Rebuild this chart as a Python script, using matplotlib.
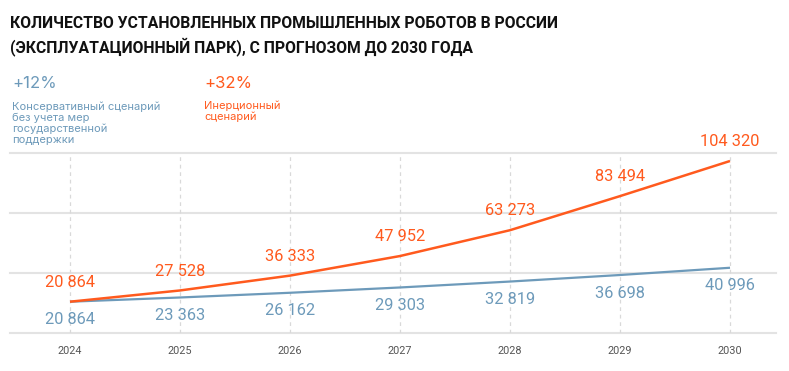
import matplotlib
matplotlib.use("Agg")
import matplotlib.pyplot as plt

years = [2024, 2025, 2026, 2027, 2028, 2029, 2030]
conservative = [20864, 23363, 26162, 29303, 32819, 36698, 40996]
inertial = [20864, 27528, 36333, 47952, 63273, 83494, 104320]
title = "КОЛИЧЕСТВО УСТАНОВЛЕННЫХ ПРОМЫШЛЕННЫХ РОБОТОВ В РОССИИ\n(ЭКСПЛУАТАЦИОННЫЙ ПАРК), С ПРОГНОЗОМ ДО 2030 ГОДА"
cons_pct = "+12%"
cons_text = "Консервативный сценарий\nбез учета мер\nгосударственной\nподдержки"
inert_pct = "+32%"
inert_text = "Инерционный\nсценарий"

ORANGE = "#ff5a1e"
BLUE = "#6d9aba"
GRID = "#e3e3e3"

def fmt(v):
    return f"{v:,}".replace(",", " ")

W, H = 789, 371
fig = plt.figure(figsize=(W / 100, H / 100), dpi=100)
fig.patch.set_facecolor("white")

ax = fig.add_axes([10 / W, 1 - 333 / H, (776 - 10) / W, (333 - 153) / H])
ymin, step = 2298, 35590
ax.set_ylim(ymin, ymin + 3 * step)
ax.set_xlim(2024 - 60 / 110, 2030 + 46 / 110)

for k in range(4):
    ax.axhline(ymin + k * step, color=GRID, lw=1.5, zorder=0, clip_on=False)
for yr in years:
    ax.axvline(yr, color="#d9d9d9", lw=0.9, ls=(0, (3, 3)), zorder=0)

ax.plot(years, conservative, color=BLUE, lw=1.6, zorder=3, solid_capstyle="butt")
ax.plot(years, inertial, color=ORANGE, lw=1.8, zorder=4, solid_capstyle="butt")

lab_font = dict(family=["Roboto", "DejaVu Sans"], fontsize=11.8)
for x, v in zip(years, inertial):
    ax.annotate(fmt(v), (x, v), xytext=(0, 14), textcoords="offset points",
                ha="center", va="center", color=ORANGE, **lab_font)
for x, v in zip(years, conservative):
    ax.annotate(fmt(v), (x, v), xytext=(0, -13), textcoords="offset points",
                ha="center", va="center", color=BLUE, **lab_font)

ax.set_xticks(years)
ax.set_xticklabels([str(y) for y in years], family=["Roboto", "DejaVu Sans"],
                   fontsize=7.8, color="#555555")
ax.tick_params(axis="x", length=0, pad=9)
ax.set_yticks([])
for s in ax.spines.values():
    s.set_visible(False)

fig.text(10 / W, 1 - 36 / H, title, ha="left", va="center",
         family=["Roboto", "DejaVu Sans"], fontweight="bold", fontsize=11.3,
         color="#111111", linespacing=1.38)

fig.text(12 / W, 1 - 84 / H, cons_pct, ha="left", va="center",
         family=["Inter", "DejaVu Sans"], fontsize=12, color=BLUE)
fig.text(12 / W, 1 - 123 / H, cons_text, ha="left", va="center",
         family=["Inter", "DejaVu Sans"], fontsize=8, color=BLUE, linespacing=1.1)
fig.text(204 / W, 1 - 84 / H, inert_pct, ha="left", va="center",
         family=["Inter", "DejaVu Sans"], fontsize=12, color=ORANGE)
fig.text(204 / W, 1 - 111 / H, inert_text, ha="left", va="center",
         family=["Inter", "DejaVu Sans"], fontsize=8, color=ORANGE, linespacing=1.1)

fig.savefig("out.png", dpi=100, facecolor="white")
